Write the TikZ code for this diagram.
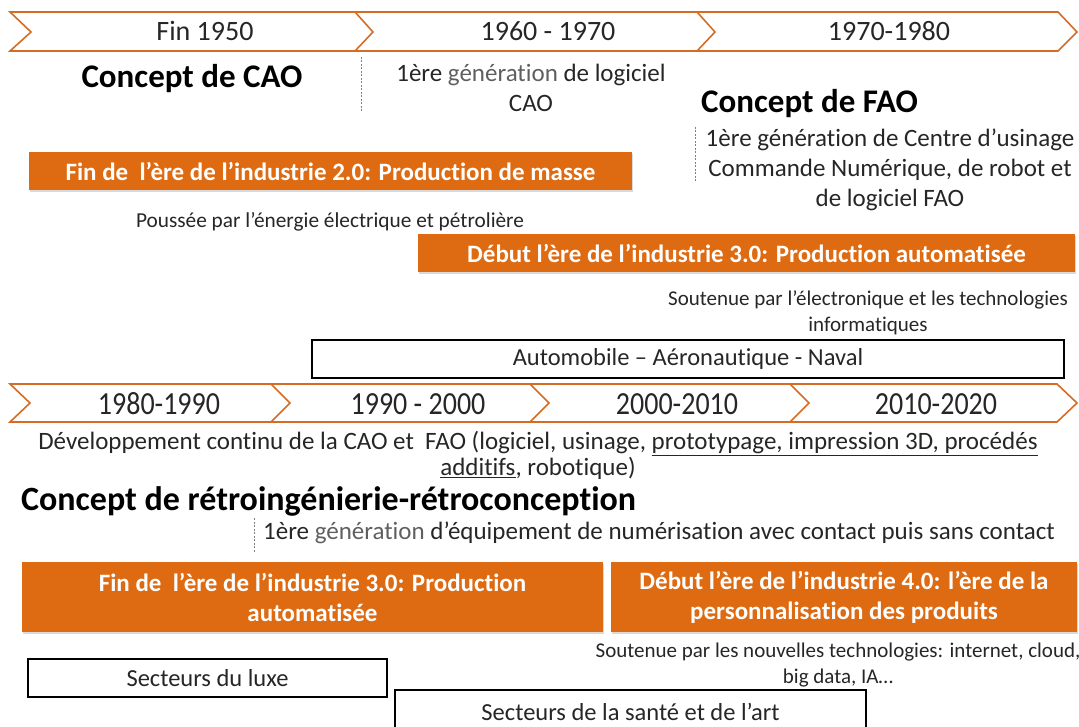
\documentclass[tikz,border=0pt]{standalone}
\usepackage{fontspec}
\setmainfont{Carlito}[Ligatures=NoCommon]
\usetikzlibrary{shadows}
\definecolor{orng}{RGB}{222,106,18}
\definecolor{chev}{RGB}{214,108,36}
\definecolor{txt}{RGB}{38,38,38}
\definecolor{gen}{RGB}{95,95,95}
\newcommand\fsz[2]{\fontsize{#1}{#2}\selectfont}
\newcommand\tallr[1]{\scalebox{1}[1.15]{#1}}
\begin{document}
\begin{tikzpicture}[x=1pt,y=-1pt,
  chevline/.style={draw=chev, line width=1.6pt, line join=miter},
  year/.style={font=\fsz{28}{34}, text=txt, inner sep=0pt, anchor=base},
  concept/.style={font=\bfseries\fsz{33}{40}, text=black, inner sep=0pt},
  body/.style={font=\fsz{25}{30}, text=txt, inner sep=0pt, align=center},
  small/.style={font=\fsz{21}{25.5}, text=txt, inner sep=0pt, align=center},
  obox/.style={fill=orng, text=white, font=\bfseries\fsz{25}{30}, inner sep=0pt, align=center,
    drop shadow={shadow xshift=1pt, shadow yshift=-2pt, opacity=0.3}},
  wbox/.style={draw=black, line width=1.5pt, fill=white, inner sep=0pt, font=\fsz{24.5}{29}, text=txt},
  vdashline/.style={draw=gray, line width=0.8pt, dash pattern=on 2pt off 1.5pt}]
\useasboundingbox (0,0) rectangle (1079,727);

% ---- top timeline
\draw[chevline] (10,12) -- (1058,12) -- (1077,32) -- (1058,51) -- (10,51) -- (31,32) -- cycle;
\draw[chevline] (355,12) -- (373,32) -- (355,51);
\draw[chevline] (697,12) -- (715,32) -- (697,51);
\node[year] (y1) at (205,41) {Fin 1950};
\node[year] (y2) at (548,41) {1960 - 1970};
\node[year] (y3) at (889,41) {1970-1980};

\node[concept] (c1) at (192,79) {Concept de CAO};
\coordinate (d1a) at (361,57); \coordinate (d1b) at (361,111);
\draw[vdashline] (d1a) -- (d1b);
\node[body] (g1) at (531,88) {1ère {\color{gen}génération} de logiciel\\CAO};

\node[concept, anchor=west] (c2) at (701,104) {Concept de FAO};
\coordinate (d2a) at (695,127); \coordinate (d2b) at (695,183);
\draw[vdashline] (d2a) -- (d2b);
\node[body] (g2) at (890,170) {1ère génération de Centre d’usinage\\Commande Numérique, de robot et\\de logiciel FAO};

\node[obox, minimum width=603pt, minimum height=38pt] (b1) at (330.5,171)
  {Fin de\ \ l’ère de l’industrie 2.0: Production de masse};
\node[small, font=\fsz{21.3}{25.5}] (p1) at (330,222) {Poussée par l’énergie électrique et pétrolière};
\node[obox, minimum width=657pt, minimum height=38pt] (b2) at (746.5,253)
  {Début l’ère de l’industrie 3.0: Production automatisée};
\node[small] (s1) at (868,313) {Soutenue par l’électronique et les technologies\\informatiques};
\node[wbox, minimum width=752pt, minimum height=38pt] (naval) at (688,359)
  {Automobile – Aéronautique - Naval};

% ---- bottom timeline
\draw[chevline] (10,384) -- (1057,384) -- (1077,403) -- (1057,422) -- (10,422) -- (30,403) -- cycle;
\draw[chevline] (271,384) -- (290,403) -- (271,422);
\draw[chevline] (530,384) -- (549,403) -- (530,422);
\draw[chevline] (790,384) -- (809,403) -- (790,422);
\node[year] (y4) at (159,414) {\tallr{1980-1990}};
\node[year] (y5) at (418,414) {\tallr{1990 - 2000}};
\node[year] (y6) at (677,414) {\tallr{2000-2010}};
\node[year] (y7) at (936,414) {\tallr{2010-2020}};

\node[small, font=\fsz{25}{26}] (dev) at (538,455)
  {Développement continu de la CAO et\ \ FAO (logiciel, usinage, \underline{prototypage, impression 3D, procédés}\\\underline{additifs}, robotique)};
\node[concept, font=\bfseries\fsz{34}{40}, anchor=west] (c3) at (21,501) {Concept de rétroingénierie-rétroconception};
\coordinate (d3a) at (254,518); \coordinate (d3b) at (254,553);
\draw[vdashline] (d3a) -- (d3b);
\node[body, font=\fsz{25}{28}, anchor=west] (g3) at (263,533)
  {1ère {\color{gen}génération} d’équipement de numérisation avec contact puis sans contact};

\node[obox, minimum width=581pt, minimum height=70pt] (b3) at (312.5,597)
  {Fin de\ \ l’ère de l’industrie 3.0: Production\\automatisée};
\node[obox, minimum width=466pt, minimum height=70pt] (b4) at (844,597)
  {Début l’ère de l’industrie 4.0: l’ère de la\\personnalisation des produits};
\node[small] (s2) at (838,665) {Soutenue par les nouvelles technologies: internet, cloud,\\big data, IA…};
\node[wbox, minimum width=359pt, minimum height=38pt] (luxe) at (207.5,678) {Secteurs du luxe};
\node[wbox, minimum width=471pt, minimum height=44pt] (sante) at (630.5,712) {Secteurs de la santé et de l’art};
\end{tikzpicture}
\end{document}
